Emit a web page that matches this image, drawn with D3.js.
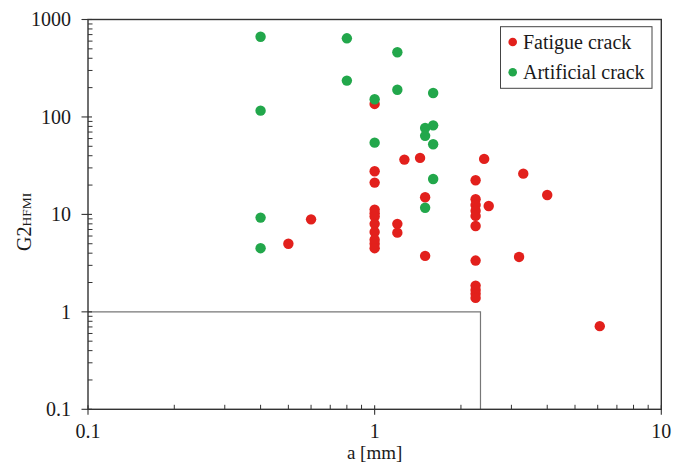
<!DOCTYPE html>
<html><head><meta charset="utf-8">
<script src="https://cdn.jsdelivr.net/npm/d3@7/dist/d3.min.js"></script>
<style>body{margin:0;background:#fff}svg{display:block}</style>
</head><body><svg id="c" width="685" height="463" font-family="'Liberation Serif', 'DejaVu Serif', serif"></svg>
<script>
const fatigueA = [1.0,1.27,1.44,1.0,1.0,1.5,1.0,1.0,1.0,1.0,1.0,1.0,1.0,1.0,1.2,1.2,1.5,0.6,0.5,2.41,2.25,3.3,4.0,2.5,2.25,2.25,2.25,2.25,2.25,3.19,2.25,2.25,2.25,2.25,2.25,6.1];
const fatigueG = [136,36.5,38,27.7,21.2,15.0,11.2,10.3,9.5,8.0,6.6,5.5,5.0,4.5,8.0,6.5,3.75,8.9,5.0,37.1,22.4,26.2,15.8,12.2,14.3,12.5,10.9,9.65,7.6,3.66,3.36,1.86,1.68,1.53,1.39,0.713];
const artificialA = [0.4,0.4,0.8,0.8,1.2,1.2,1.0,1.6,1.6,1.5,1.5,1.6,1.0,1.6,1.5,0.4,0.4];
const artificialG = [666,116,641,236,461,190,152,176,82,77,64,52.5,54.5,23.1,11.7,9.27,4.5];
const xTickVals = [0.1,1,10];
const yTickVals = [0.1,1,10,100,1000];
const xTickLabels = ["0.1","1","10"];
const yTickLabels = ["0.1","1","10","100","1000"];
const seriesNames = ["Fatigue crack","Artificial crack"];
const colors = ["#e2201c","#22a74b"];
const boxA = 2.34, boxG = 1;

const svg = d3.select("#c");
const L=88, T=19.5, R=661.3, B=409.3;
const x = d3.scaleLog().domain([0.1,10]).range([L,R]);
const y = d3.scaleLog().domain([0.1,1000]).range([B,T]);
const txt = "#1a1a1a";
const FS = 20;

// box region
svg.append("path")
  .attr("d", `M${x(0.1)},${y(boxG)}H${x(boxA)}V${y(0.1)}`)
  .attr("fill","none").attr("stroke","#777").attr("stroke-width",1.2);

// minor ticks
const xMinor = x.ticks().filter(v=>!xTickVals.some(t=>Math.abs(t-v)<1e-9));
const yMinor = y.ticks().filter(v=>!yTickVals.some(t=>Math.abs(t-v)<1e-9));
svg.append("g").selectAll("line").data(xMinor).join("line")
  .attr("x1",d=>x(d)).attr("x2",d=>x(d)).attr("y1",B).attr("y2",B-4.5)
  .attr("stroke","#333").attr("stroke-width",1);
svg.append("g").selectAll("line").data(yMinor).join("line")
  .attr("y1",d=>y(d)).attr("y2",d=>y(d)).attr("x1",L).attr("x2",L+4.5)
  .attr("stroke","#333").attr("stroke-width",1);

// major ticks
svg.append("g").selectAll("line").data(xTickVals).join("line")
  .attr("x1",d=>x(d)).attr("x2",d=>x(d)).attr("y1",B-4).attr("y2",B+5.5)
  .attr("stroke","#333").attr("stroke-width",1.1);
svg.append("g").selectAll("line").data(yTickVals).join("line")
  .attr("y1",d=>y(d)).attr("y2",d=>y(d)).attr("x1",L-6.5).attr("x2",L+4)
  .attr("stroke","#333").attr("stroke-width",1.1);

// frame
svg.append("rect").attr("x",L).attr("y",T).attr("width",R-L).attr("height",B-T)
  .attr("fill","none").attr("stroke","#333").attr("stroke-width",1.4);

// tick labels
svg.append("g").selectAll("text").data(xTickVals).join("text")
  .attr("x",d=>x(d)).attr("y",B+28.5).attr("text-anchor","middle").attr("fill",txt)
  .attr("font-size",FS).text((d,i)=>xTickLabels[i]);
svg.append("g").selectAll("text").data(yTickVals).join("text")
  .attr("x",L-17).attr("y",d=>y(d)).attr("dy","0.34em").attr("text-anchor","end").attr("fill",txt)
  .attr("font-size",FS).text((d,i)=>yTickLabels[i]);

// axis titles
svg.append("text").attr("x",x(1)).attr("y",458.8).attr("text-anchor","middle").attr("fill",txt)
  .attr("font-size",19).text("a [mm]");
const yl = svg.append("text").attr("transform","translate(31,251) rotate(-90)")
  .attr("text-anchor","start").attr("font-size",FS).attr("fill",txt);
yl.append("tspan").text("G2");
yl.append("tspan").attr("font-size",13.5).text("HFMI");

// points
const fatigue = fatigueA.map((a,i)=>({a,g:fatigueG[i]}));
const artificial = artificialA.map((a,i)=>({a,g:artificialG[i]}));
svg.append("g").selectAll("circle").data(fatigue).join("circle")
  .attr("cx",d=>x(d.a)).attr("cy",d=>y(d.g)).attr("r",5.2).attr("fill",colors[0]);
svg.append("g").selectAll("circle").data(artificial).join("circle")
  .attr("cx",d=>x(d.a)).attr("cy",d=>y(d.g)).attr("r",5.2).attr("fill",colors[1]);

// legend
const lg = svg.append("g");
lg.append("rect").attr("x",500.5).attr("y",26.7).attr("width",151.5).attr("height",61.6)
  .attr("fill","#fff").attr("stroke","#444").attr("stroke-width",1);
seriesNames.forEach((n,i)=>{
  const cy = 42 + i*30.3;
  lg.append("circle").attr("cx",512.7).attr("cy",cy).attr("r",4.3).attr("fill",colors[i]);
  lg.append("text").attr("x",523).attr("y",cy).attr("dy","0.34em").attr("font-size",FS).attr("fill",txt).text(n);
});
</script></body></html>
